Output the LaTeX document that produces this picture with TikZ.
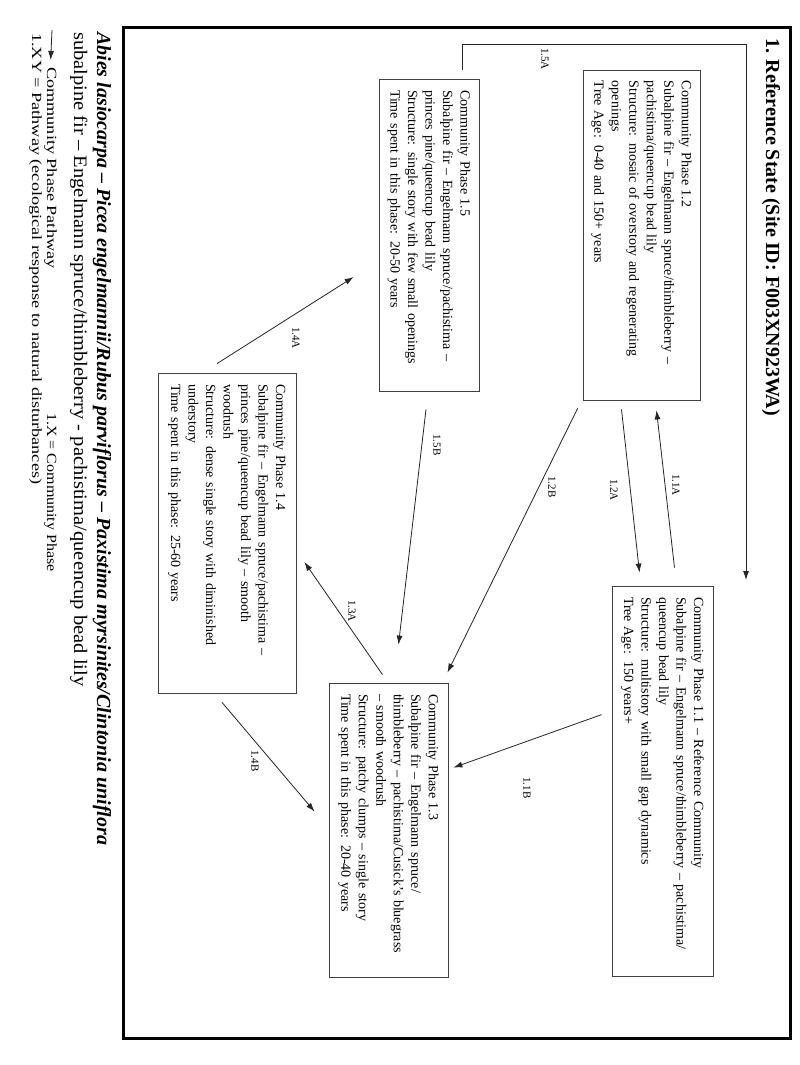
\documentclass[tikz,border=0pt]{standalone}
\usepackage{fontspec}
\setmainfont{Liberation Serif}
\usetikzlibrary{arrows.meta,calc}

\tikzset{
  phase/.style={draw=black!75,line width=0.8pt,align=left,inner xsep=11pt,inner ysep=0pt,font=\fontsize{14}{17.5}\selectfont},
  pathway/.style={draw=black!85,line width=0.8pt,-{Latex[length=9pt,width=6pt]}},
  pathlabel/.style={font=\fontsize{11}{13}\selectfont,inner sep=0pt},
  plain/.style={anchor=base west,inner sep=0pt},
  legend/.style={plain,font=\fontsize{14}{16}\selectfont,xscale=1.3}
}

\begin{document}
\begin{tikzpicture}[x=1pt,y=1pt,rotate=-90,transform shape]
\path[use as bounding box,fill=white] (0,0) rectangle (1065,800);
\draw[line width=3pt] (28,123) rectangle (1038,790);

% heading
\node[plain,font=\fontsize{20}{24}\selectfont\bfseries] (title) at (38,766) {1. Reference State (Site ID: F003XN923WA)};

% community phases
\node[phase,text width=308pt,minimum height=117pt] (p12) at (235,641.5) {Community Phase 1.2\\
  Subalpine fir – Engelmann spruce/thimbleberry –\\
  pachistima/queencup bead lily\\
  Structure: mosaic of overstory and regenerating\\
  openings\\
  Tree Age: 0-40 and 150+ years};
\node[phase,text width=368pt,minimum height=101pt] (p11) at (781,662.5) {Community Phase 1.1 – Reference Community\\
  Subalpine fir – Engelmann spruce/thimbleberry – pachistima/\\
  queencup bead lily\\
  Structure: multistory with small gap dynamics\\
  Tree Age: 150 years+};
\node[phase,text width=290pt,minimum height=100pt] (p15) at (235,429) {Community Phase 1.5\\
  Subalpine fir – Engelmann spruce/pachistima –\\
  princes pine/queencup bead lily\\
  Structure: single story with few small openings\\
  Time spent in this phase: 20-50 years};
\node[phase,text width=272pt,minimum height=119pt] (p13) at (830,388.5) {Community Phase 1.3\\
  Subalpine fir – Engelmann spruce/\\
  thimbleberry – pachistima/Cusick's bluegrass\\
  – smooth woodrush\\
  Structure: patchy clumps – single story\\
  Time spent in this phase: 20-40 years};
\node[phase,text width=298pt,minimum height=138pt] (p14) at (533,227) {Community Phase 1.4\\
  Subalpine fir – Engelmann spruce/pachistima –\\
  princes pine/queencup bead lily – smooth\\
  woodrush\\
  Structure: dense single story with diminished\\
  understory\\
  Time spent in this phase: 25-60 years};

% pathways
\coordinate (e15A) at (580,746);
\draw[pathway] ($(p11.west)+(-18,12)$) -- ($(p12.east)+(10,15)$);
\draw[pathway] ($(p12.east)+(9,-20)$) -- ($(p11.west)+(-13,-23)$);
\draw[pathway] ($(p12.south east)+(8,-5)$) -- ($(p13.north west)+(-10,-1)$);
\draw[pathway] ($(p15.east)+(18,-3)$) -- ($(p13.west)+(-38,10)$);
\draw[pathway] ($(p11.south west)+(129,-10)$) -- ($(p13.north west)+(85,5)$);
\draw[pathway] ($(p13.west)+(-8,-6)$) -- ($(p14.north)+(29,8)$);
\draw[pathway] ($(p14.east)+(9,-5)$) -- ($(p13.south west)+(129,-14)$);
\draw[pathway] ($(p14.west)+(-9,-10)$) -- ($(p15.south)+(42,-25)$);
\draw[pathway] ($(p15.west)+(-9,33)$) -- (44,462) -- (44,746) -- (e15A);

\node[pathlabel] (l11A) at (485,676) {1.1A};
\node[pathlabel] (l12A) at (490,614) {1.2A};
\node[pathlabel] (l12B) at (487,552) {1.2B};
\node[pathlabel] (l15B) at (445,437) {1.5B};
\node[pathlabel] (l15A) at (59,545) {1.5A};
\node[pathlabel] (l11B) at (788,527) {1.1B};
\node[pathlabel] (l13A) at (611,352) {1.3A};
\node[pathlabel] (l14B) at (761,255) {1.4B};
\node[pathlabel] (l14A) at (338,296) {1.4A};

% plant community and legend
\node[plain,font=\fontsize{20}{24}\selectfont\bfseries\itshape] (sci) at (32,97) {Abies lasiocarpa – Picea engelmannii/Rubus parviflorus – Paxistima myrsinites/Clintonia uniflora};
\node[plain,font=\fontsize{19}{23}\selectfont,xscale=1.08] (common) at (32,74) {subalpine fir – Engelmann spruce/thimbleberry - pachistima/queencup bead lily};
\coordinate (keytail) at (30,52);
\node[legend] (legA) at (67,47) {Community Phase Pathway};
\node[legend,xscale=0.88] (legB) at (413,47) {1.X = Community Phase};
\node[legend] (legC) at (33,32) {1.XY = Pathway (ecological response to natural disturbances)};
\draw[pathway,shorten >=7pt] (keytail) -- (legA.west);
\end{tikzpicture}
\end{document}
